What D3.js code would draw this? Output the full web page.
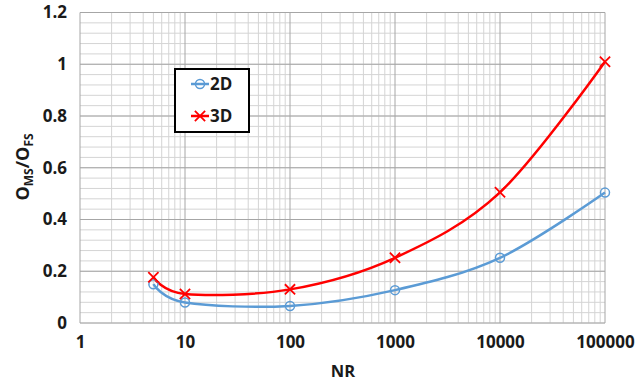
<!DOCTYPE html>
<html>
<head>
<meta charset="utf-8">
<script src="https://cdn.jsdelivr.net/npm/d3@7"></script>
<style>
  html, body { margin: 0; padding: 0; background: #fff; }
  svg { display: block; }
  text { font-family: "Open Sans", "Liberation Sans", sans-serif; font-weight: bold; fill: #1a1a1a; }
</style>
</head>
<body>
<svg id="chart" width="637" height="385"></svg>
<script>
// NR values (log axis) and the two measured ratios
const nr = [5, 10, 100, 1000, 10000, 100000];
const values2D = [0.150, 0.079, 0.066, 0.127, 0.252, 0.504];
const values3D = [0.177, 0.112, 0.130, 0.252, 0.505, 1.010];
const xTicks = [1, 10, 100, 1000, 10000, 100000];
const yTicks = [0, 0.2, 0.4, 0.6, 0.8, 1, 1.2];

const svg = d3.select("#chart");
const plotL = 80, plotR = 605, plotT = 12.5, plotB = 323;

const x = d3.scaleLog().domain([1, 100000]).range([plotL, plotR]);
const y = d3.scaleLinear().domain([0, 1.2]).range([plotB, plotT]);

// minor grid: 2..9 within each decade, 0.04 steps vertically
const grid = svg.append("g");
const minorX = [];
for (let d = 1; d < 100000; d *= 10) for (let k = 2; k <= 9; k++) minorX.push(d * k);
const minorY = d3.range(0, 1.2001, 0.04);
grid.selectAll(".mx").data(minorX).join("line")
  .attr("x1", d => x(d)).attr("x2", d => x(d)).attr("y1", plotT).attr("y2", plotB)
  .attr("stroke", "#d4d4d4").attr("stroke-width", 1);
grid.selectAll(".my").data(minorY).join("line")
  .attr("x1", plotL).attr("x2", plotR).attr("y1", d => y(d)).attr("y2", d => y(d))
  .attr("stroke", "#d4d4d4").attr("stroke-width", 1);
grid.selectAll(".Mx").data(xTicks).join("line")
  .attr("x1", d => x(d)).attr("x2", d => x(d)).attr("y1", plotT).attr("y2", plotB)
  .attr("stroke", "#a6a6a6").attr("stroke-width", 1);
grid.selectAll(".My").data(yTicks).join("line")
  .attr("x1", plotL).attr("x2", plotR).attr("y1", d => y(d)).attr("y2", d => y(d))
  .attr("stroke", "#a6a6a6").attr("stroke-width", 1);

// axes (labels only; grid supplies the lines)
const xAxis = svg.append("g").attr("transform", `translate(0,${plotB})`)
  .call(d3.axisBottom(x).tickValues(xTicks).tickFormat(d3.format("d")).tickSize(0).tickPadding(13));
const yAxis = svg.append("g").attr("transform", `translate(${plotL},0)`)
  .call(d3.axisLeft(y).tickValues(yTicks).tickFormat(d => String(+d.toFixed(1))).tickSize(0).tickPadding(13));
[xAxis, yAxis].forEach(a => {
  a.select(".domain").remove();
  a.selectAll("text").attr("font-size", 17).attr("font-family", null).attr("fill", "#1a1a1a");
});

// axis titles
svg.append("text").attr("x", 343).attr("y", 377)
  .attr("text-anchor", "middle").attr("font-size", 16.5).text("NR");
const yt = svg.append("text").attr("transform", "translate(29,167) rotate(-90)")
  .attr("text-anchor", "middle").attr("font-size", 18);
yt.append("tspan").text("O");
yt.append("tspan").attr("font-size", 12).attr("dy", 4).text("MS");
yt.append("tspan").attr("dy", -4).text("/O");
yt.append("tspan").attr("font-size", 12).attr("dy", 4).text("FS");

// series
const line = d3.line().x(d => x(d[0])).y(d => y(d[1])).curve(d3.curveCatmullRom.alpha(0));
const s2 = nr.map((n, i) => [n, values2D[i]]);
const s3 = nr.map((n, i) => [n, values3D[i]]);
const blue = "#5b9bd5", red = "#ff0000";

svg.append("path").datum(s2).attr("d", line).attr("fill", "none")
  .attr("stroke", blue).attr("stroke-width", 2.5);
svg.append("path").datum(s3).attr("d", line).attr("fill", "none")
  .attr("stroke", red).attr("stroke-width", 2.5);

svg.selectAll(".c").data(s2).join("circle")
  .attr("cx", d => x(d[0])).attr("cy", d => y(d[1])).attr("r", 4.5)
  .attr("fill", "none").attr("stroke", blue).attr("stroke-width", 1.5);
const cross = d3.symbol().type(d3.symbolX).size(70);
svg.selectAll(".x").data(s3).join("path")
  .attr("transform", d => `translate(${x(d[0])},${y(d[1])})`)
  .attr("d", cross).attr("fill", "none").attr("stroke", red).attr("stroke-width", 1.8);

// legend
const lg = svg.append("g");
lg.append("rect").attr("x", 175).attr("y", 69).attr("width", 74).attr("height", 63)
  .attr("fill", "#fff").attr("stroke", "#000").attr("stroke-width", 2);
const items = [{name: "2D", color: blue, yy: 84}, {name: "3D", color: red, yy: 116}];
items.forEach(it => {
  lg.append("line").attr("x1", 191).attr("x2", 209).attr("y1", it.yy).attr("y2", it.yy)
    .attr("stroke", it.color).attr("stroke-width", 2.5);
  lg.append("text").attr("x", 210).attr("y", it.yy + 6).attr("font-size", 17).text(it.name);
});
lg.append("circle").attr("cx", 200).attr("cy", 84).attr("r", 4.5)
  .attr("fill", "none").attr("stroke", blue).attr("stroke-width", 1.5);
lg.append("path").attr("transform", "translate(200,116)").attr("d", cross)
  .attr("fill", "none").attr("stroke", red).attr("stroke-width", 1.8);
</script>
</body>
</html>
